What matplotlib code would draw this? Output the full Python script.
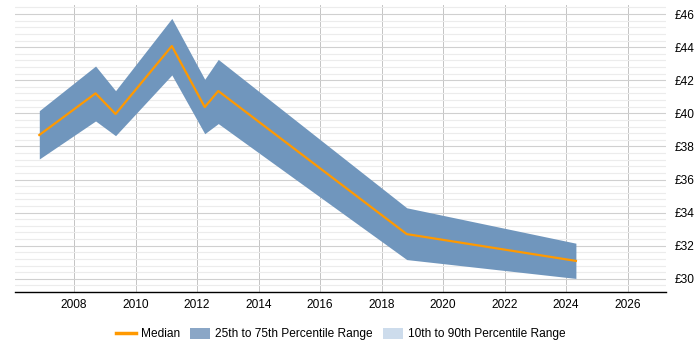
import matplotlib
matplotlib.use("Agg")
import matplotlib.pyplot as plt
from matplotlib.patches import Patch
from matplotlib.lines import Line2D
from matplotlib.ticker import MultipleLocator, FuncFormatter

plt.rcParams['font.family'] = ['Liberation Sans', 'DejaVu Sans']

years = [2006.87, 2008.70, 2009.35, 2011.18, 2012.25, 2012.69, 2018.82, 2024.32]
median = [38.69, 41.21, 39.96, 44.07, 40.38, 41.35, 32.70, 31.08]
p25 = [37.24, 39.54, 38.65, 42.32, 38.77, 39.38, 31.16, 30.02]
p75 = [40.16, 42.86, 41.37, 45.74, 42.06, 43.26, 34.29, 32.15]
x_ticks = [2008, 2010, 2012, 2014, 2016, 2018, 2020, 2022, 2024, 2026]
y_ticks = [30, 32, 34, 36, 38, 40, 42, 44, 46]

band_color = '#7096bd'
outer_color = '#cddcec'
median_color = '#ff9900'

fig = plt.figure(figsize=(7, 3.5), dpi=100)
ax = fig.add_axes([15/700, 1 - 292/350, (666-15)/700, (292-5)/350])

ax.fill_between(years, p25, p75, color=band_color, linewidth=0, zorder=2)
ax.plot(years, median, color=median_color, linewidth=1.6, zorder=3)

ax.set_xlim(2006.08, 2027.25)
ax.set_ylim(29.2, 46.55)
ax.set_xticks(x_ticks)
ax.set_yticks(y_ticks)
ax.yaxis.set_minor_locator(MultipleLocator(0.4))
ax.yaxis.set_major_formatter(FuncFormatter(lambda v, p: f"£{v:.0f}"))
ax.yaxis.tick_right()

ax.grid(True, which='major', axis='x', color='#c4c4c4', linewidth=0.7, zorder=0)
ax.grid(True, which='major', axis='y', color='#d0d0d0', linewidth=0.8, zorder=0)
ax.grid(True, which='minor', axis='y', color='#ececec', linewidth=0.8, zorder=0)
ax.set_axisbelow(True)

for s in ['left', 'right', 'top']:
    ax.spines[s].set_visible(False)
ax.spines['bottom'].set_color('black')
ax.spines['bottom'].set_linewidth(1.0)

ax.tick_params(axis='x', which='both', length=0, labelsize=8.6, pad=5)
ax.tick_params(axis='y', which='both', length=0, labelsize=8.6, pad=6)

handles = [
    Line2D([0], [0], color=median_color, linewidth=2.5),
    Patch(facecolor='#8aa6c6', edgecolor='none'),
    Patch(facecolor=outer_color, edgecolor='none'),
]
labels = ['Median', '25th to 75th Percentile Range', '10th to 90th Percentile Range']
fig.legend(handles, labels, loc='center', bbox_to_anchor=(341/700, 1 - 334/350), ncol=3,
           frameon=False, fontsize=8.6, handlelength=1.65, handleheight=1.05, columnspacing=0.85,
           handletextpad=0.45)

fig.savefig('out.png', dpi=100)
